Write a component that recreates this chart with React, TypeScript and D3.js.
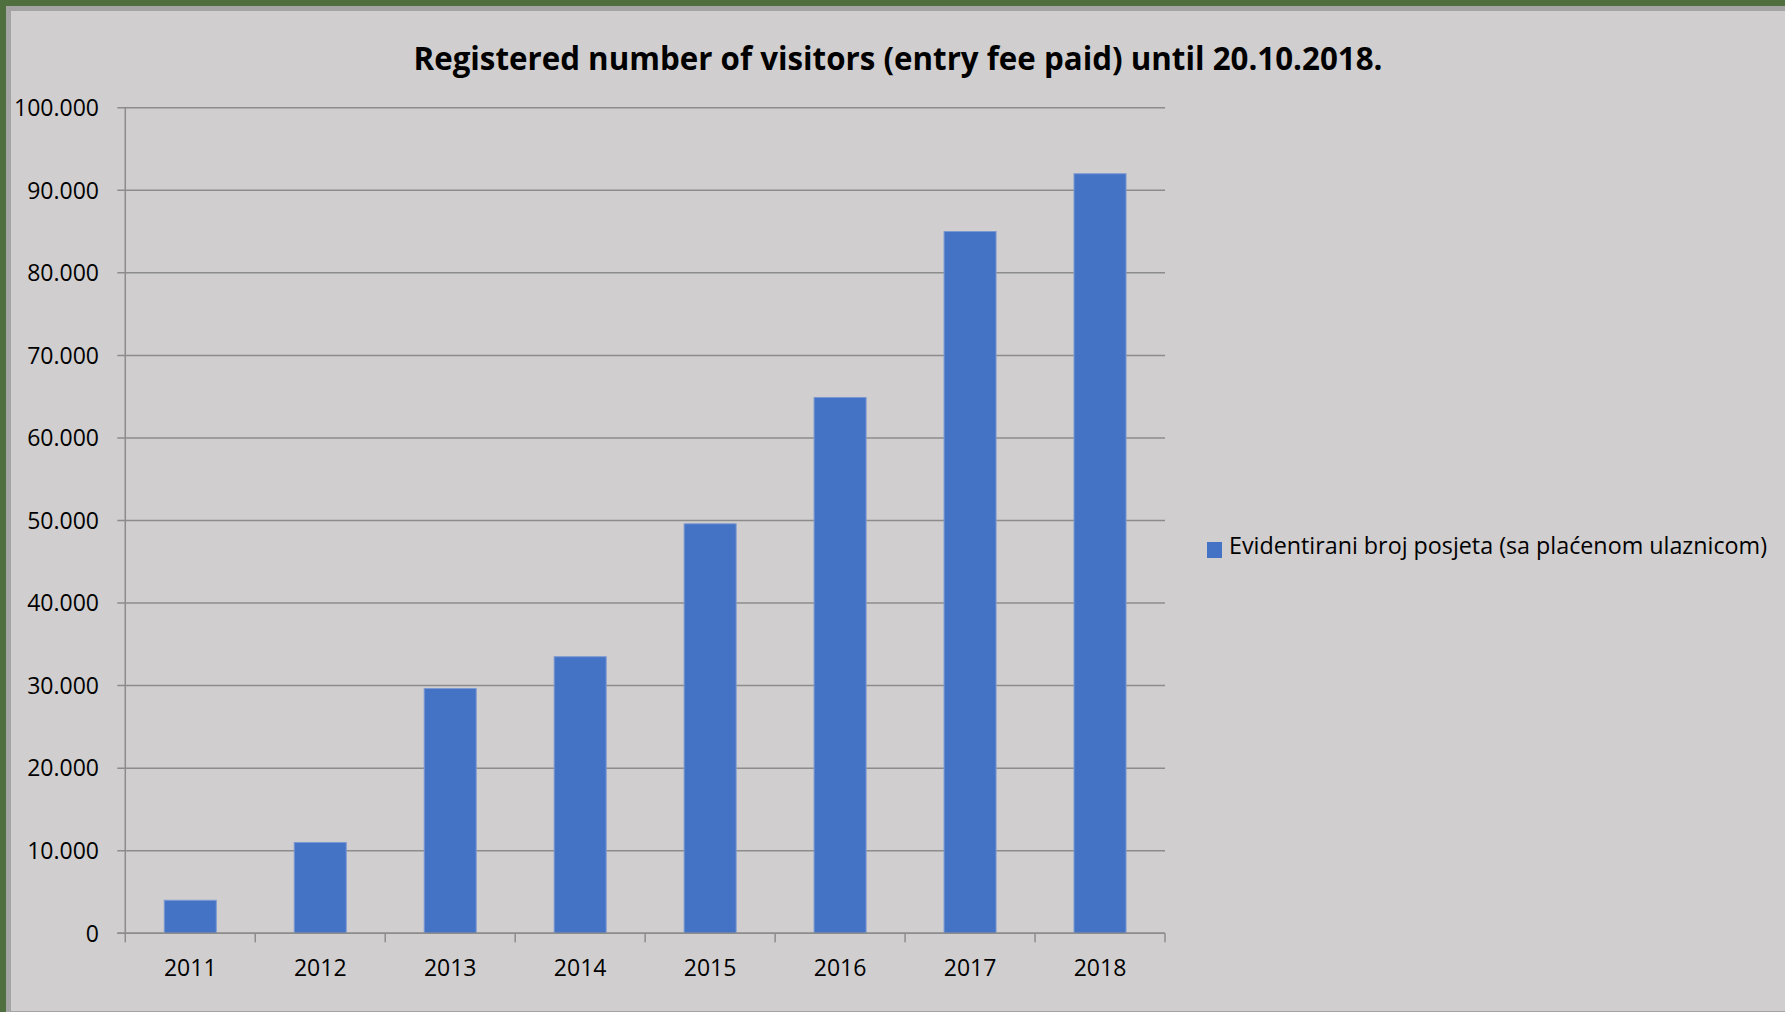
import React from "react";
import * as d3 from "d3";

const years = ["2011", "2012", "2013", "2014", "2015", "2016", "2017", "2018"];
const visitors = [4000, 11000, 29650, 33500, 49600, 64900, 85000, 92000];
const yTicks = [0, 10000, 20000, 30000, 40000, 50000, 60000, 70000, 80000, 90000, 100000];
const title = "Registered number of visitors (entry fee paid) until 20.10.2018.";
const seriesName = "Evidentirani broj posjeta (sa plaćenom ulaznicom)";

const W = 1785;
const H = 1012;
const FONT = "'Open Sans', 'Noto Sans', sans-serif";

export default function App() {
  const left = 125.3;
  const right = 1165;
  const top = 107.7;
  const bottom = 933.3;

  const x = d3.scaleBand<string>().domain(years).range([left, right]).paddingInner(0.6).paddingOuter(0.3);
  const y = d3.scaleLinear().domain([0, 100000]).range([bottom, top]);
  const locale = d3.formatLocale({ decimal: ",", thousands: ".", grouping: [3], currency: ["", ""] });
  const fmt = locale.format(",");
  const step = x.step();
  const boundaries = d3.range(years.length + 1).map((i) => left + i * step);

  return (
    <svg width={W} height={H} style={{ position: "absolute", left: 0, top: 0, display: "block" }}>
      <rect x={0} y={0} width={W} height={H} fill="#4f6f3f" />
      <rect x={6} y={6} width={W - 6} height={H - 6} fill="#a4a4a4" />
      <rect x={11} y={11} width={W - 11} height={H - 12} fill="#d0cecf" />

      <text x={898} y={70} textAnchor="middle" fontFamily={FONT} fontWeight="bold" fontSize={32}
        textLength={969} lengthAdjust="spacingAndGlyphs" fill="#000">{title}</text>

      {yTicks.map((t) => (
        <g key={t}>
          <line x1={left - 8} x2={right} y1={y(t)} y2={y(t)} stroke="#8c8c8c" strokeWidth={1.5} />
          <text x={99} y={y(t)} dy="0.36em" textAnchor="end" fontFamily={FONT} fontSize={23} fill="#000">{fmt(t)}</text>
        </g>
      ))}

      <line x1={left} x2={left} y1={top} y2={bottom} stroke="#8c8c8c" strokeWidth={1.5} />
      {boundaries.map((b, i) => (
        <line key={i} x1={b} x2={b} y1={bottom} y2={bottom + 9} stroke="#8c8c8c" strokeWidth={1.5} />
      ))}

      {years.map((yr, i) => (
        <rect key={yr} x={x(yr)} y={y(visitors[i])} width={x.bandwidth()} height={bottom - y(visitors[i])}
          fill="#4472c4" stroke="#7b98d2" strokeWidth={1} />
      ))}
      <line x1={left - 8} x2={right} y1={bottom} y2={bottom} stroke="#8c8c8c" strokeWidth={1.5} />

      {years.map((yr) => (
        <text key={yr} x={(x(yr) as number) + x.bandwidth() / 2} y={968} dy="0.36em" textAnchor="middle"
          fontFamily={FONT} fontSize={23} fill="#000">{yr}</text>
      ))}

      <rect x={1207} y={542} width={15} height={16} fill="#4472c4" />
      <text x={1229} y={546} dy="0.36em" fontFamily={FONT} fontSize={23} textLength={538}
        lengthAdjust="spacingAndGlyphs" fill="#000">{seriesName}</text>
    </svg>
  );
}
